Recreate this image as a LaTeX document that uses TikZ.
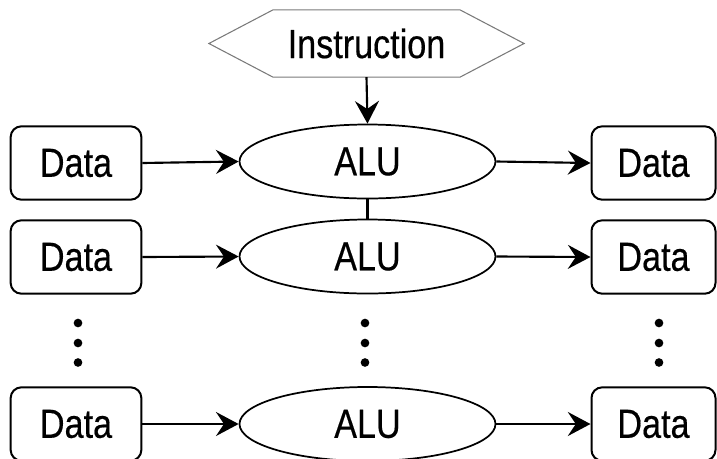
\documentclass[tikz,border=0pt]{standalone}
\usepackage{fontspec}
\setmainfont{Liberation Sans}[FakeStretch=0.84,FakeBold=0.4]
\usetikzlibrary{arrows.meta,shapes.geometric}
\definecolor{edgegray}{HTML}{7A7A7A}
\begin{document}
\begin{tikzpicture}[x=0.75pt,y=-0.75pt,
  lbl/.style={font=\fontsize{30.5pt}{34pt}\selectfont},
  databox/.style={lbl,draw=black,line width=1.5pt,rounded corners=8pt,
    minimum width=98pt,minimum height=55pt,inner sep=0pt},
  alu/.style={lbl,ellipse,draw=black,line width=1.3pt,
    minimum width=192pt,minimum height=55.5pt,inner sep=0pt},
  flow/.style={line width=1.6pt,draw=black,
    -{Stealth[length=17pt,width=18pt,inset=6pt]}},
  link/.style={line width=1.6pt,draw=black},
  vdot/.style={circle,fill=black,inner sep=0pt,minimum size=6.5pt}]
\useasboundingbox (0,0) rectangle (717,458);

% instruction hexagon
\node[lbl,minimum width=140pt,minimum height=50pt,inner sep=0pt] (ins) at (366.5,43.5) {Instruction};
\draw[edgegray,line width=0.8pt]
  (ins.north west) -- (ins.north east) -- ([xshift=48pt]ins.east)
  -- (ins.south east) -- (ins.south west) -- ([xshift=-48pt]ins.west) -- cycle;

% rows
\node[databox] (d1) at (76,163) {Data};
\node[databox] (d2) at (76,257) {Data};
\node[databox] (d3) at (76,424) {Data};
\node[alu] (a1) at (367.5,161.5) {ALU};
\node[alu] (a2) at (367.5,256.5) {ALU};
\node[alu] (a3) at (367.5,424) {ALU};
\node[databox,minimum width=93pt] (r1) at (653.5,163) {Data};
\node[databox,minimum width=93pt] (r2) at (653.5,257) {Data};
\node[databox,minimum width=93pt] (r3) at (653.5,424) {Data};

% connectors
\draw[flow] (ins.south) -- (a1.north);
\draw[link] (a1.south) -- (a2.north);
\foreach \i in {1,2,3}{
  \draw[flow] (d\i.east) -- (a\i.west);
  \draw[flow] (a\i.east) -- (r\i.west);
}

% ellipsis dots
\foreach \n/\x in {l/78,m/365,r/659}{
  \node[vdot] (\n1) at (\x,323) {};
  \node[vdot] (\n2) at (\x,343) {};
  \node[vdot] (\n3) at (\x,362.5) {};
}
\end{tikzpicture}
\end{document}
